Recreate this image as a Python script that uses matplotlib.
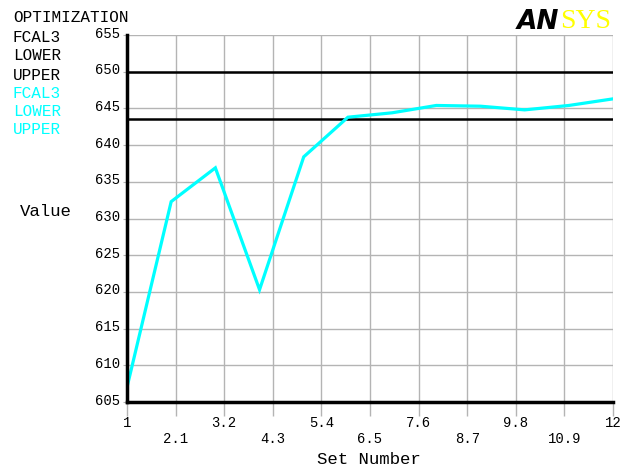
import numpy as np
import matplotlib
matplotlib.use("Agg")
import matplotlib.pyplot as plt
from matplotlib.transforms import ScaledTranslation

# optimization history: design set vs FCAL3 value
set_number = [1, 2, 3, 4, 5, 6, 7, 8, 9, 10, 11, 12]
fcal3 = [607.0, 632.3, 636.9, 620.3, 638.4, 643.8, 644.4, 645.4, 645.3, 644.8, 645.4, 646.3]
lower_limit = 643.6
upper_limit = 650.0

x_ticks = [1, 2.1, 3.2, 4.3, 5.4, 6.5, 7.6, 8.7, 9.8, 10.9, 12]
x_tick_labels = ["1", "2.1", "3.2", "4.3", "5.4", "6.5", "7.6", "8.7", "9.8", "10.9", "12"]
y_ticks = list(range(605, 656, 5))

mono = "Liberation Mono"
cyan = "#00ffff"
grid_c = "#b4b4b4"

fig = plt.figure(figsize=(6.31, 4.69), dpi=100)
ax = fig.add_axes([127 / 631, 1 - 402 / 469, 486 / 631, 367 / 469])

ax.set_xlim(1, 12)
ax.set_ylim(605, 655)

# grid
for xv in x_ticks:
    ax.axvline(xv, color=grid_c, lw=1.0, zorder=1)
for yv in y_ticks:
    ax.axhline(yv, color=grid_c, lw=1.0, zorder=1)

# limits
ax.axhline(upper_limit, color="black", lw=1.8, zorder=3)
ax.axhline(lower_limit, color="black", lw=1.8, zorder=3)

# design variable history
ax.plot(set_number, fcal3, color=cyan, lw=2.3, zorder=4, solid_joinstyle="miter")

for s in ["top", "right"]:
    ax.spines[s].set_visible(False)
for s in ["left", "bottom"]:
    ax.spines[s].set_linewidth(2.5)
    ax.spines[s].set_color("black")
    ax.spines[s].set_zorder(5)

ax.set_yticks(y_ticks)
ax.set_yticklabels([str(v) for v in y_ticks], fontfamily=mono, fontsize=10)
ax.tick_params(axis="y", length=3, color=grid_c, pad=2)
up = ScaledTranslation(0, 3 / 100, fig.dpi_scale_trans)
for lab in ax.get_yticklabels():
    lab.set_transform(lab.get_transform() + up)

ax.set_xticks(x_ticks)
ax.set_xticklabels([])
ax.tick_params(axis="x", length=10, color=grid_c, width=1.0)
for i, (xv, lab) in enumerate(zip(x_ticks, x_tick_labels)):
    ypix = 423 if i % 2 == 0 else 439
    ax.text(xv, 1 - (ypix - 35) / 367, lab, transform=ax.get_xaxis_transform(),
            ha="center", va="center", fontfamily=mono, fontsize=10)

fig.text(369 / 631, 1 - 459 / 469, "Set Number", ha="center", va="center",
         fontfamily=mono, fontsize=12.5)
fig.text(46 / 631, 1 - 211 / 469, "Value", ha="center", va="center",
         fontfamily=mono, fontsize=12.5)

# legend block, upper left
legend_lines = [("OPTIMIZATION", "black", 17), ("FCAL3", "black", 37),
                ("LOWER", "black", 56), ("UPPER", "black", 75),
                ("FCAL3", cyan, 94), ("LOWER", cyan, 111), ("UPPER", cyan, 129)]
for txt, c, ypix in legend_lines:
    fig.text(13 / 631, 1 - ypix / 469, txt, ha="left", va="center",
             fontfamily=mono, fontsize=11.5, color=c)

# logo
fig.text(559 / 631, 1 - 22 / 469, "AN", ha="right", va="center", fontsize=19,
         fontweight="heavy", fontstyle="italic", family="DejaVu Sans", color="black")
fig.text(560 / 631, 1 - 22 / 469, "SYS", ha="left", va="center", fontsize=20,
         family="Liberation Serif", color="#ffff00")

fig.savefig("out.png", dpi=100)
